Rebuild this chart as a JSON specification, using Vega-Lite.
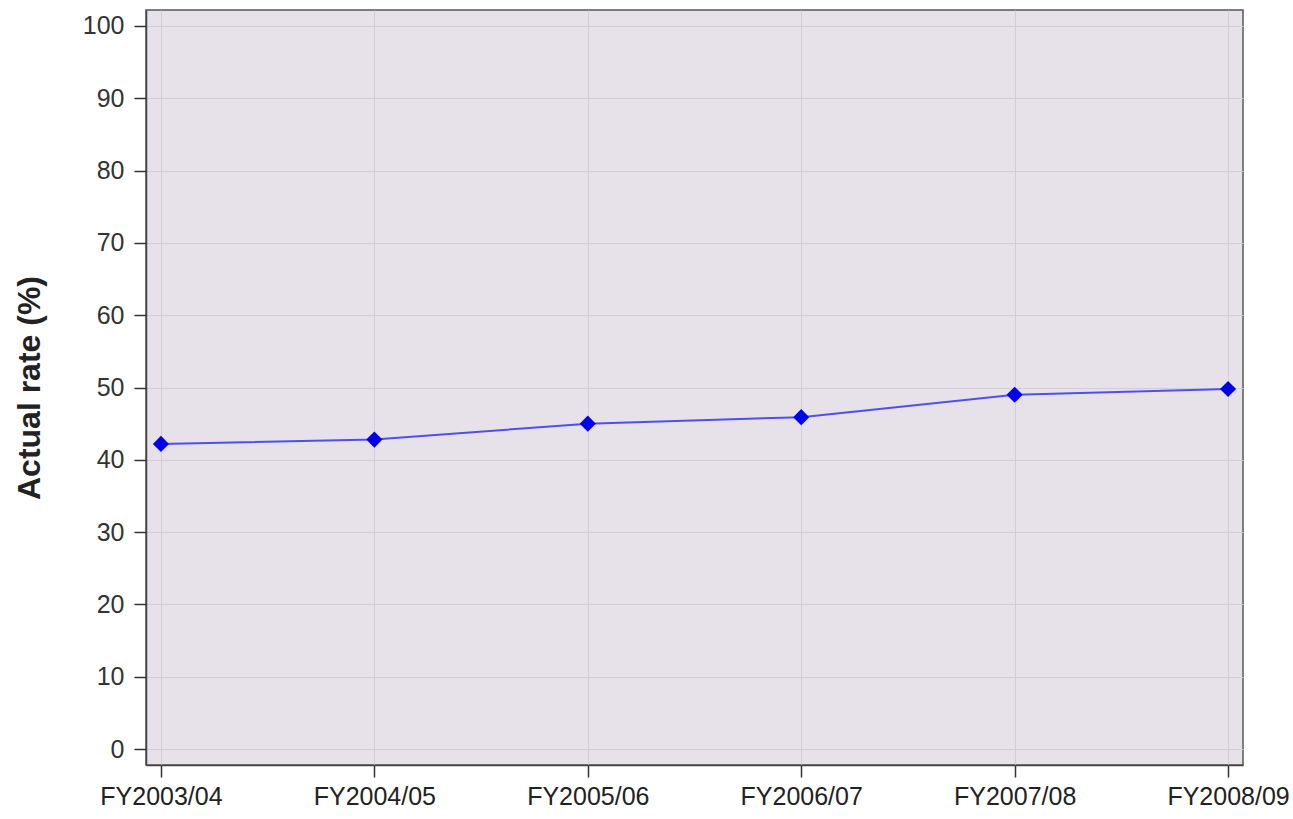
{
  "$schema": "https://vega.github.io/schema/vega-lite/v6.json",
  "autosize": "none",
  "width": 1097,
  "height": 755,
  "padding": {"left": 146, "top": 10, "right": 50, "bottom": 54},
  "background": "white",
  "config": {
    "view": {"fill": "#e7e2e9", "stroke": "#555555", "strokeWidth": 1.5},
    "font": "Liberation Sans"
  },
  "data": {
    "values": [
      {"year": "FY2003/04", "rate": 42.2},
      {"year": "FY2004/05", "rate": 42.8},
      {"year": "FY2005/06", "rate": 45.0},
      {"year": "FY2006/07", "rate": 45.9},
      {"year": "FY2007/08", "rate": 49.0},
      {"year": "FY2008/09", "rate": 49.8}
    ]
  },
  "encoding": {
    "x": {
      "field": "year", "type": "ordinal",
      "scale": {"type": "point", "padding": 0.07},
      "axis": {
        "title": null, "labelAngle": 0, "labelFontSize": 25, "labelColor": "#222222",
        "grid": true, "gridColor": "#d2ced6", "gridWidth": 1,
        "domainColor": "#444444", "domainWidth": 1.5,
        "tickColor": "#333333", "tickSize": 12, "tickWidth": 1.5, "labelPadding": 7
      }
    },
    "y": {
      "field": "rate", "type": "quantitative",
      "scale": {"domain": [-2.2, 102.2], "nice": false, "zero": false},
      "axis": {
        "title": "Actual rate (%)", "titleFontSize": 32, "titleFontWeight": "bold", "titleColor": "#222222",
        "titlePadding": 36,
        "values": [0, 10, 20, 30, 40, 50, 60, 70, 80, 90, 100],
        "labelFontSize": 25, "labelColor": "#333333",
        "grid": true, "gridColor": "#d2ced6", "gridWidth": 1,
        "domainColor": "#444444", "domainWidth": 1.5,
        "tickColor": "#333333", "tickSize": 12, "tickWidth": 1.5, "labelPadding": 10
      }
    }
  },
  "layer": [
    {"mark": {"type": "line", "color": "#4f4ff0", "strokeWidth": 2}},
    {"mark": {"type": "point", "shape": "diamond", "filled": true, "color": "#0000ee", "size": 260, "opacity": 1}}
  ]
}
